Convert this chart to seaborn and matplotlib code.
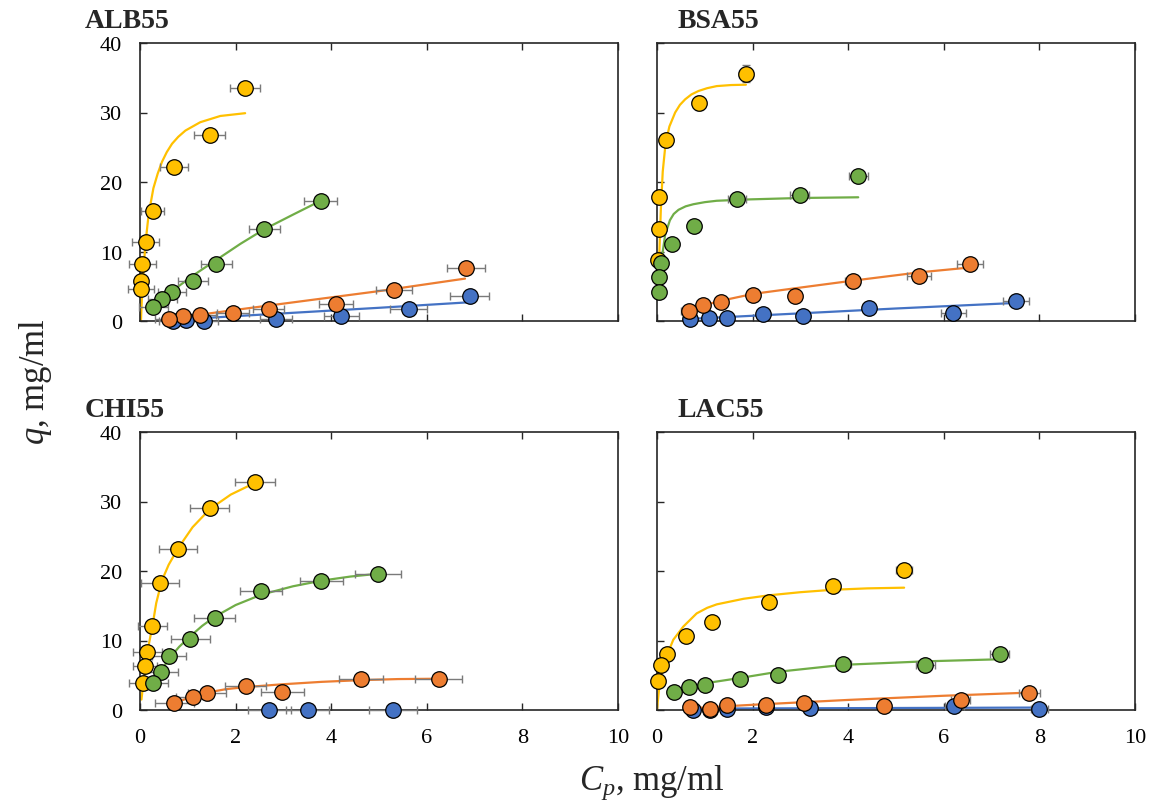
import matplotlib
matplotlib.use('Agg')
import matplotlib.pyplot as plt
import seaborn as sns
import pandas as pd

# measured points: (Cp, q, Cp error bar)
alb_gold = [(2.20, 33.5, 0.32), (1.46, 26.8, 0.32), (0.71, 22.2, 0.30), (0.27, 15.8, 0.24),
            (0.12, 11.4, 0.28), (0.05, 8.2, 0.28), (0.02, 5.7, 0.10), (0.02, 4.6, 0.28)]
alb_green = [(3.78, 17.3, 0.35), (2.60, 13.3, 0.33), (1.60, 8.2, 0.32), (1.11, 5.8, 0.31),
             (0.67, 4.2, 0.29), (0.47, 3.1, 0.30), (0.28, 2.0, 0.30)]
alb_orange = [(6.82, 7.6, 0.40), (5.31, 4.5, 0.38), (4.10, 2.4, 0.36), (2.69, 1.7, 0.33),
              (1.94, 1.1, 0.33), (1.25, 0.9, 0.33), (0.90, 0.7, 0.30), (0.61, 0.3, 0.30)]
alb_blue = [(6.90, 3.6, 0.41), (5.62, 1.7, 0.39), (4.21, 0.7, 0.37), (2.85, 0.3, 0.34),
            (1.34, 0.05, 0.30), (0.96, 0.2, 0.30), (0.70, 0.0, 0.30)]

bsa_gold = [(1.86, 35.6, 0.14), (0.87, 31.4, 0.10), (0.18, 26.0, 0.05), (0.05, 17.8, 0.03),
            (0.04, 13.2, 0.03), (0.03, 8.8, 0.03)]
bsa_gold_q_err = [1.2, 1.0, 0, 0, 0, 0]
bsa_green = [(4.21, 20.9, 0.20), (2.99, 18.1, 0.20), (1.68, 17.6, 0.19), (0.78, 13.7, 0.06),
             (0.32, 11.1, 0.05), (0.08, 8.3, 0.04), (0.04, 6.3, 0.04), (0.04, 4.2, 0.04)]
bsa_orange = [(6.55, 8.2, 0.28), (5.49, 6.5, 0.25), (4.09, 5.8, 0.15), (2.88, 3.6, 0.10),
              (2.01, 3.8, 0.12), (1.33, 2.7, 0.10), (0.97, 2.3, 0.10), (0.66, 1.5, 0.15)]
bsa_blue = [(7.51, 2.9, 0.27), (6.20, 1.1, 0.26), (4.44, 1.9, 0.12), (3.05, 0.7, 0.10),
            (2.22, 1.0, 0.10), (1.46, 0.4, 0.08), (1.09, 0.4, 0.08), (0.69, 0.3, 0.10)]

chi_gold = [(2.41, 32.8, 0.42), (1.46, 29.0, 0.41), (0.80, 23.2, 0.40), (0.42, 18.3, 0.39),
            (0.26, 12.1, 0.30), (0.15, 8.3, 0.30), (0.11, 6.3, 0.25), (0.07, 3.85, 0.30)]
chi_green = [(4.98, 19.5, 0.48), (3.79, 18.5, 0.45), (2.54, 17.1, 0.44), (1.56, 13.2, 0.42),
             (1.05, 10.2, 0.41), (0.61, 7.7, 0.36), (0.44, 5.5, 0.36), (0.27, 3.85, 0.31)]
chi_orange = [(6.25, 4.5, 0.49), (4.63, 4.5, 0.46), (2.98, 2.6, 0.45), (2.21, 3.4, 0.43),
              (1.40, 2.4, 0.40), (1.10, 1.9, 0.35), (0.72, 1.05, 0.40)]
chi_blue = [(2.70, 0.0, 0.45), (3.51, 0.0, 0.45), (5.30, 0.0, 0.50)]

lac_gold = [(5.17, 20.1, 0.16), (3.68, 17.8, 0.14), (2.34, 15.6, 0.05), (1.15, 12.7, 0.04),
            (0.61, 10.7, 0.04), (0.20, 8.1, 0.03), (0.08, 6.5, 0.03), (0.03, 4.2, 0.03)]
lac_green = [(7.17, 8.0, 0.20), (5.61, 6.5, 0.20), (3.90, 6.6, 0.15), (2.53, 5.1, 0.05),
             (1.73, 4.5, 0.05), (1.01, 3.6, 0.05), (0.67, 3.3, 0.05), (0.36, 2.55, 0.05)]
lac_orange = [(7.79, 2.5, 0.22), (6.35, 1.45, 0.19), (4.75, 0.6, 0.10), (3.07, 1.05, 0.08),
              (2.28, 0.7, 0.06), (1.46, 0.7, 0.06), (1.10, 0.2, 0.05), (0.68, 0.4, 0.05)]
lac_blue = [(8.00, 0.1, 0.18), (6.22, 0.6, 0.20), (3.20, 0.25, 0.06), (2.27, 0.4, 0.06),
            (1.46, 0.1, 0.05), (1.10, 0.0, 0.05), (0.76, 0.0, 0.05)]

# fitted isotherm curves: (Cp, q)
alb_gold_fit = [(0.02, 0.0), (0.04, 3.5), (0.06, 5.7), (0.11, 10.9), (0.18, 15.3), (0.28, 19.1),
                (0.37, 21.2), (0.46, 22.9), (0.56, 24.3), (0.67, 25.5), (0.80, 26.5), (0.95, 27.4),
                (1.26, 28.6), (1.68, 29.5), (2.20, 29.9)]
alb_green_fit = [(0.20, 1.5), (0.45, 3.0), (0.67, 4.3), (1.10, 6.5), (1.60, 8.8), (2.10, 11.1),
                 (2.60, 13.2), (3.20, 15.3), (3.78, 17.3)]
alb_orange_fit = [(0.70, 0.4), (2.0, 1.6), (3.0, 2.5), (4.0, 3.4), (5.0, 4.3), (6.0, 5.3), (6.8, 6.1)]
alb_blue_fit = [(0.70, 0.15), (2.0, 0.7), (3.5, 1.3), (5.0, 1.9), (6.9, 2.7)]

bsa_gold_fit = [(0.03, 6.0), (0.05, 10.0), (0.08, 16.0), (0.12, 21.5), (0.18, 25.6), (0.26, 28.0),
                (0.38, 30.0), (0.48, 31.1), (0.59, 31.9), (0.72, 32.6), (0.87, 33.1), (1.05, 33.5),
                (1.25, 33.8), (1.55, 33.95), (1.86, 34.0)]
bsa_green_fit = [(0.06, 6.0), (0.10, 9.0), (0.17, 12.4), (0.27, 14.5), (0.35, 15.4), (0.45, 16.0),
                 (0.60, 16.5), (0.76, 16.8), (1.0, 17.1), (1.25, 17.3), (1.95, 17.5), (2.99, 17.7),
                 (4.21, 17.8)]
bsa_orange_fit = [(0.66, 1.4), (0.97, 2.25), (1.33, 2.9), (2.01, 3.9), (2.88, 4.7), (4.09, 5.8),
                  (5.49, 7.0), (6.55, 7.7)]
bsa_blue_fit = [(0.69, 0.3), (3.0, 1.1), (5.0, 1.8), (7.51, 2.6)]

chi_gold_fit = [(0.03, 1.5), (0.07, 3.9), (0.15, 8.2), (0.26, 12.1), (0.34, 15.4), (0.42, 17.6),
                (0.50, 19.3), (0.60, 20.9), (0.80, 23.3), (1.10, 26.3), (1.46, 28.9), (1.90, 31.0),
                (2.41, 32.7)]
chi_green_fit = [(0.27, 3.5), (0.44, 5.6), (0.61, 7.4), (0.82, 9.1), (1.05, 10.6), (1.30, 12.1),
                 (1.56, 13.4), (2.0, 15.1), (2.54, 16.6), (3.2, 17.8), (3.79, 18.6), (4.4, 19.2),
                 (4.98, 19.6)]
chi_orange_fit = [(0.72, 1.05), (1.10, 1.9), (1.40, 2.5), (1.80, 3.0), (2.21, 3.3), (2.98, 3.7),
                  (3.8, 4.05), (4.63, 4.3), (5.4, 4.45), (6.25, 4.5)]
chi_blue_fit = []

lac_gold_fit = [(0.0, 0.0), (0.06, 4.3), (0.17, 7.2), (0.34, 10.1), (0.55, 12.0), (0.83, 13.9),
                (1.05, 14.7), (1.25, 15.2), (1.81, 16.0), (2.34, 16.5), (3.0, 16.95), (3.68, 17.3),
                (4.4, 17.5), (5.17, 17.6)]
lac_green_fit = [(1.01, 3.85), (1.73, 4.6), (2.53, 5.5), (3.90, 6.5), (5.61, 7.0), (7.17, 7.3)]
lac_orange_fit = [(0.7, 0.25), (2.0, 0.75), (3.0, 1.1), (4.0, 1.45), (5.0, 1.75), (6.0, 2.05),
                  (7.0, 2.3), (7.79, 2.5)]
lac_blue_fit = [(0.76, 0.2), (8.0, 0.35)]

colors = {'gold': '#FFC000', 'green': '#70AD47', 'blue': '#4472C4', 'orange': '#ED7D31'}

sns.set_theme(style='ticks')
plt.rcParams['font.family'] = ['Liberation Serif', 'DejaVu Serif']
plt.rcParams['mathtext.fontset'] = 'custom'
plt.rcParams['mathtext.rm'] = 'Liberation Serif'
plt.rcParams['mathtext.it'] = 'Liberation Serif:italic'

W, H = 1149, 803
fig = plt.figure(figsize=(W / 100, H / 100), dpi=100)

panels = [
    ('ALB55', 140, 44, 85, {'gold': (alb_gold, alb_gold_fit), 'green': (alb_green, alb_green_fit),
                            'blue': (alb_blue, alb_blue_fit), 'orange': (alb_orange, alb_orange_fit)}),
    ('BSA55', 657, 44, 678, {'gold': (bsa_gold, bsa_gold_fit), 'green': (bsa_green, bsa_green_fit),
                             'blue': (bsa_blue, bsa_blue_fit), 'orange': (bsa_orange, bsa_orange_fit)}),
    ('CHI55', 140, 433, 85, {'gold': (chi_gold, chi_gold_fit), 'green': (chi_green, chi_green_fit),
                             'blue': (chi_blue, chi_blue_fit), 'orange': (chi_orange, chi_orange_fit)}),
    ('LAC55', 657, 433, 678, {'gold': (lac_gold, lac_gold_fit), 'green': (lac_green, lac_green_fit),
                              'blue': (lac_blue, lac_blue_fit), 'orange': (lac_orange, lac_orange_fit)}),
]

for name, left, top, title_x, series in panels:
    ax = fig.add_axes([left / W, 1 - (top + 278) / H, 478 / W, 278 / H])
    for key, (pts, fit) in series.items():
        df = pd.DataFrame(pts, columns=['cp', 'q', 'err'])
        if fit:
            fit_df = pd.DataFrame(fit, columns=['cp', 'q'])
            sns.lineplot(data=fit_df, x='cp', y='q', color=colors[key], linewidth=1.6,
                         sort=False, estimator=None, ax=ax, zorder=2)
        yerr = bsa_gold_q_err if (name == 'BSA55' and key == 'gold') else None
        ax.errorbar(df['cp'], df['q'], xerr=df['err'], yerr=yerr, fmt='none', ecolor='#7a7a7a',
                    elinewidth=1.0, capsize=3, capthick=1.0, zorder=3, clip_on=False)
        sns.scatterplot(data=df, x='cp', y='q', color=colors[key], s=125, edgecolor='black',
                        linewidth=0.9, zorder=4, clip_on=False, legend=False, ax=ax)
    ax.set_xlim(0, 10)
    ax.set_ylim(0, 40)
    ax.set_xticks([0, 2, 4, 6, 8, 10])
    ax.set_yticks([0, 10, 20, 30, 40])
    ax.set_xlabel('')
    ax.set_ylabel('')
    ax.tick_params(direction='in', top=True, length=5, width=1.0, labelsize=16,
                   pad=13, colors='#262626', labelcolor='black')
    if top < 200:
        ax.tick_params(labelbottom=False)
    if left > 400:
        ax.tick_params(labelleft=False)
    for sp in ax.spines.values():
        sp.set_color('#262626')
        sp.set_linewidth(1.2)
    fig.text(title_x / W, 1 - (top - 16) / H, name, fontsize=20, fontweight='bold',
             ha='left', va='baseline')

fig.text(652 / W, 1 - 783 / H, '$C_p$, mg/ml', fontsize=25, ha='center', va='center')
fig.text(35 / W, 1 - 382 / H, '$q$, mg/ml', fontsize=25, ha='center', va='center', rotation=90)

fig.savefig('out.png', dpi=100)
